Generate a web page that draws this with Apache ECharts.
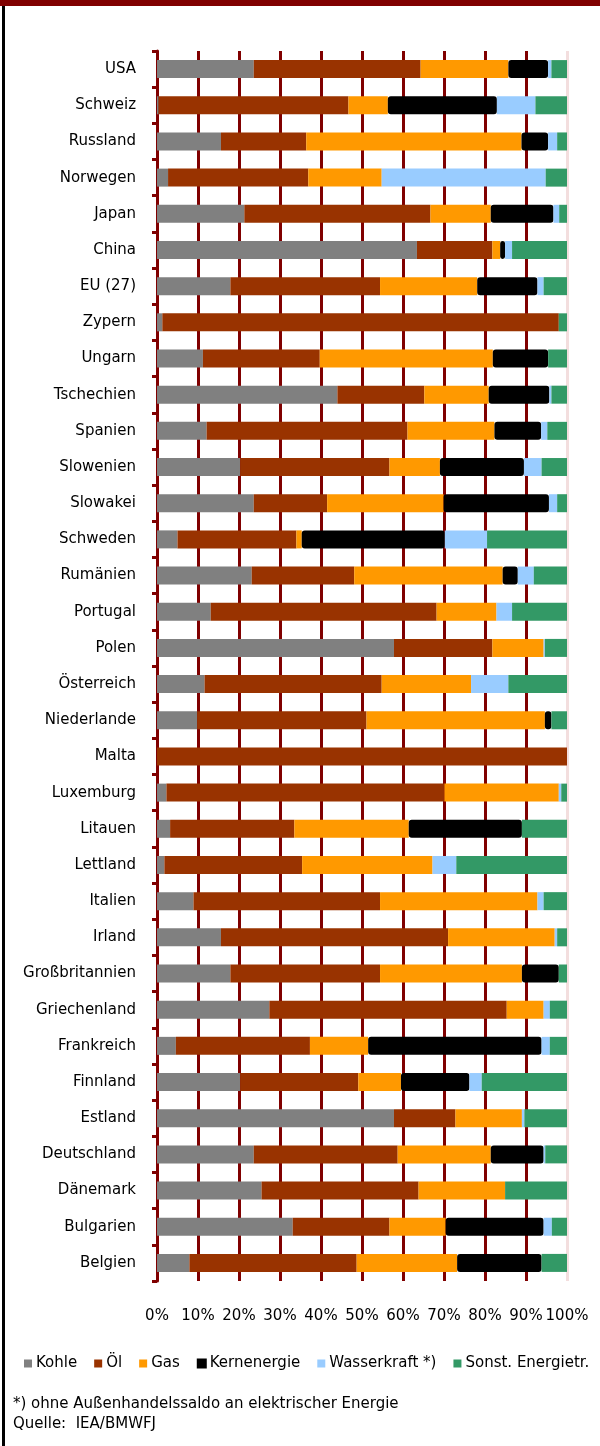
<!DOCTYPE html>
<html>
<head>
	<meta charset="utf-8" />
	<title>Energieträger Anteile</title>
	<style type="text/css">
		body {
			margin: 0;
			background: #fff;
		}

		#main {
			width: 600px;
			height: 1446px;
		}
	</style>
	<script src="https://cdn.jsdelivr.net/npm/echarts@6/dist/echarts.min.js"></script>
</head>
<body>
	<div id="main"></div>
	<script type="text/javascript">

		const laender = ['USA', 'Schweiz', 'Russland', 'Norwegen', 'Japan', 'China', 'EU (27)', 'Zypern',
			'Ungarn', 'Tschechien', 'Spanien', 'Slowenien', 'Slowakei', 'Schweden', 'Rumänien', 'Portugal',
			'Polen', 'Österreich', 'Niederlande', 'Malta', 'Luxemburg', 'Litauen', 'Lettland', 'Italien',
			'Irland', 'Großbritannien', 'Griechenland', 'Frankreich', 'Finnland', 'Estland', 'Deutschland',
			'Dänemark', 'Bulgarien', 'Belgien'];

		// Anteile in %, gleiche Reihenfolge wie laender
		const kohle = [23.6, 0.4, 15.6, 2.7, 21.3, 63.4, 17.9, 1.3, 11.2, 44.0, 12.1, 20.3, 23.6, 5.0, 23.1, 13.1,
			57.8, 11.6, 9.8, 0, 2.3, 3.2, 1.8, 8.9, 15.6, 17.9, 27.4, 4.6, 20.3, 57.8, 23.6, 25.5, 33.1, 7.9];
		const oel = [40.7, 46.3, 20.8, 34.2, 45.4, 18.4, 36.5, 96.7, 28.5, 21.2, 49.0, 36.4, 17.9, 29.0, 25.0, 55.1,
			24.0, 43.2, 41.3, 100, 67.8, 30.3, 33.6, 45.5, 55.4, 36.5, 57.9, 32.7, 28.8, 15.0, 35.1, 38.3, 23.6, 40.8];
		const gas = [21.4, 9.6, 52.5, 17.9, 14.7, 1.9, 23.7, 0, 42.2, 15.7, 21.2, 12.3, 28.4, 1.3, 36.2, 14.6,
			12.5, 21.8, 43.5, 0, 27.9, 27.9, 31.8, 38.4, 26.0, 34.6, 9.0, 14.2, 10.4, 16.2, 22.7, 21.1, 13.7, 24.5];
		const kern = [9.7, 26.6, 6.5, 0, 15.3, 1.2, 14.7, 0, 13.5, 14.8, 11.4, 20.5, 25.7, 34.9, 3.7, 0,
			0, 0, 1.6, 0, 0, 27.6, 0, 0, 0, 9.0, 0, 42.3, 16.7, 0, 12.9, 0, 23.9, 20.6];
		const wasser = [0.8, 9.4, 2.2, 40.0, 1.4, 1.7, 1.5, 0, 0, 0.5, 1.5, 4.3, 2.0, 10.3, 3.9, 3.8,
			0.3, 9.1, 0, 0, 0.6, 0, 5.8, 1.5, 0.6, 0, 1.5, 2.0, 3.0, 0.6, 0.4, 0, 2.0, 0];
		const sonst = [3.8, 7.7, 2.4, 5.2, 1.9, 13.4, 5.7, 2.0, 4.6, 3.8, 4.8, 6.2, 2.4, 19.5, 8.1, 13.4,
			5.4, 14.3, 3.8, 0, 1.4, 11.0, 27.0, 5.7, 2.4, 2.0, 4.2, 4.2, 20.8, 10.4, 5.3, 15.1, 3.7, 6.2];

		const xTicks = [0, 10, 20, 30, 40, 50, 60, 70, 80, 90, 100];

		const dunkelrot = '#800000';

		const reihe = (name, data, color, extra) => Object.assign({
			name: name,
			type: 'bar',
			stack: 'gesamt',
			data: data,
			barWidth: 18,
			itemStyle: { color: color },
			animation: false
		}, extra || {});

		const options = {
			textStyle: { fontFamily: 'DejaVu Sans, Verdana, sans-serif' },
			grid: {
				left: 157,
				right: 33,
				top: 51,
				bottom: 165
			},
			xAxis: {
				type: 'value',
				min: xTicks[0],
				max: xTicks[xTicks.length - 1],
				interval: 10,
				axisLine: { show: false },
				axisTick: { show: false },
				axisLabel: {
					margin: 28,
					fontSize: 15,
					color: '#000',
					formatter: '{value}%'
				},
				splitLine: {
					show: true,
					lineStyle: {
						width: 3,
						color: xTicks.map((t) => t === 100 ? '#f3dede' : dunkelrot)
					}
				}
			},
			yAxis: {
				type: 'category',
				data: laender,
				inverse: true,
				axisLine: {
					show: true,
					lineStyle: { color: dunkelrot, width: 3 }
				},
				axisTick: {
					show: true,
					length: 5,
					lineStyle: { color: dunkelrot, width: 3 }
				},
				axisLabel: {
					margin: 21,
					fontSize: 15,
					color: '#000'
				}
			},
			legend: {
				left: 24,
				top: 1356,
				width: 576,
				padding: 0,
				itemWidth: 8,
				itemHeight: 8,
				itemGap: 17,
				icon: 'rect',
				textStyle: { fontSize: 15, color: '#000', padding: [0, 0, 0, -1] },
				data: ['Kohle', 'Öl', 'Gas', 'Kernenergie', 'Wasserkraft *)', 'Sonst. Energietr.']
			},
			graphic: [
				{ type: 'rect', left: 0, top: 0, shape: { width: 600, height: 6 }, style: { fill: dunkelrot } },
				{ type: 'rect', left: 2, top: 6, shape: { width: 3, height: 1440 }, style: { fill: '#000' } },
				{
					type: 'text', left: 13, top: 1397,
					style: { text: '*) ohne Außenhandelssaldo an elektrischer Energie', fontSize: 15, fill: '#000', fontFamily: 'DejaVu Sans' }
				},
				{
					type: 'text', left: 13, top: 1417,
					style: { text: 'Quelle:  IEA/BMWFJ', fontSize: 15, fill: '#000', fontFamily: 'DejaVu Sans' }
				}
			],
			series: [
				reihe('Kohle', kohle, '#808080'),
				reihe('Öl', oel, '#993300'),
				reihe('Gas', gas, '#ff9900'),
				// Kernenergie mit Rahmen, Nullwerte ohne Rahmen
				reihe('Kernenergie', kern.map((v) => v === 0 ? { value: 0, itemStyle: { borderWidth: 0 } } : v), '#000000', {
					itemStyle: { color: '#000000', borderColor: '#000000', borderWidth: 2, borderRadius: 2 }
				}),
				reihe('Wasserkraft *)', wasser, '#99ccff'),
				reihe('Sonst. Energietr.', sonst, '#339966')
			]
		};

		const myChart = echarts.init(document.getElementById('main'));
		myChart.setOption(options);

	</script>
</body>
</html>
